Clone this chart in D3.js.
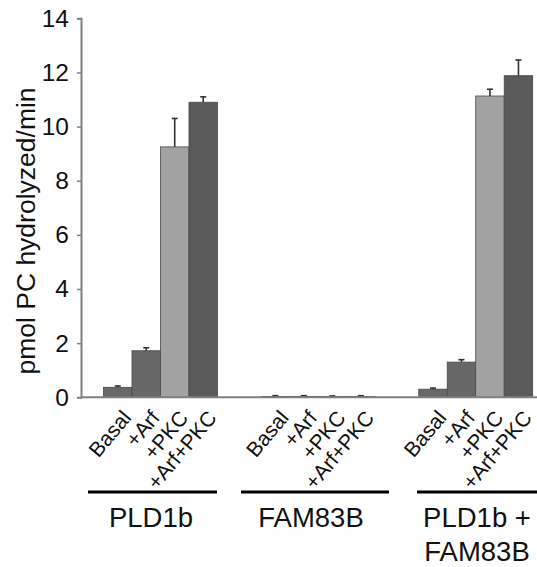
<!DOCTYPE html>
<html><head><meta charset="utf-8">
<script src="https://cdn.jsdelivr.net/npm/d3@7/dist/d3.min.js"></script>
<style>body{margin:0;background:#fff}svg{display:block}text{font-family:"Liberation Sans",Arial,sans-serif}</style>
</head><body><svg id="c" width="537" height="567"></svg>
<script>
const groups = ["PLD1b", "FAM83B", "PLD1b + FAM83B"];
const conditions = ["Basal", "+Arf", "+PKC", "+Arf+PKC"];
const valuesPLD1b = [0.37, 1.72, 9.25, 10.9];
const errorsPLD1b = [0.05, 0.11, 1.05, 0.2];
const valuesFAM83B = [0.03, 0.03, 0.03, 0.03];
const errorsFAM83B = [0.03, 0.03, 0.02, 0.03];
const valuesBoth = [0.3, 1.3, 11.13, 11.88];
const errorsBoth = [0.04, 0.09, 0.25, 0.58];
const yTicks = [0, 2, 4, 6, 8, 10, 12, 14];
const yTitle = "pmol PC hydrolyzed/min";
const colors = ["#676767", "#676767", "#a2a2a2", "#5a5a5a"];

const allValues = [valuesPLD1b, valuesFAM83B, valuesBoth];
const allErrors = [errorsPLD1b, errorsFAM83B, errorsBoth];
const data = [];
groups.forEach((g, gi) => conditions.forEach((c, ci) => data.push({g, c, v: allValues[gi][ci], e: allErrors[gi][ci]})));

const svg = d3.select("#c");
const axisX = 81;
const y = d3.scaleLinear().domain([0, 14]).range([397.3, 18.3]);
const x0 = d3.scaleBand().domain(groups).range([103.5, 532.7]).paddingInner(0.277).paddingOuter(0);
const x1 = d3.scaleBand().domain(conditions).range([0, x0.bandwidth()]).padding(0);
const cx = d => x0(d.g) + x1(d.c) + x1.bandwidth() / 2;

// bars
svg.append("g").selectAll("rect").data(data).join("rect")
  .attr("x", d => x0(d.g) + x1(d.c))
  .attr("width", x1.bandwidth())
  .attr("y", d => y(d.v))
  .attr("height", d => y(0) - y(d.v))
  .attr("fill", d => colors[conditions.indexOf(d.c)])
  .attr("stroke", "#4a4a4a").attr("stroke-width", 0.8);

// error bars
const eg = svg.append("g").attr("stroke", "#333").attr("stroke-width", 1.6);
eg.selectAll("line.v").data(data).join("line").attr("class", "v")
  .attr("x1", cx).attr("x2", cx).attr("y1", d => y(d.v)).attr("y2", d => y(d.v + d.e));
eg.selectAll("line.c").data(data).join("line").attr("class", "c")
  .attr("x1", d => cx(d) - 3).attr("x2", d => cx(d) + 3).attr("y1", d => y(d.v + d.e)).attr("y2", d => y(d.v + d.e));

// y axis
const ya = svg.append("g").attr("transform", `translate(${axisX},0)`)
  .call(d3.axisLeft(y).tickValues(yTicks).tickSize(4).tickPadding(8));
ya.select(".domain").attr("stroke", "#808080").attr("stroke-width", 2);
ya.selectAll(".tick line").attr("stroke", "#808080").attr("stroke-width", 1.5);
ya.selectAll(".tick text").attr("font-size", 24.5).attr("fill", "#111").attr("font-family", '"Liberation Sans",Arial,sans-serif');

// x axis baseline
svg.append("line").attr("x1", axisX).attr("x2", 537).attr("y1", y(0)).attr("y2", y(0))
  .attr("stroke", "#808080").attr("stroke-width", 2);

// y title
svg.append("text").attr("transform", `translate(35,231) rotate(-90)`)
  .attr("text-anchor", "middle").attr("font-size", 26.5).attr("fill", "#111").text(yTitle);

// rotated condition labels
svg.append("g").selectAll("text").data(data).join("text")
  .attr("transform", d => `translate(${cx(d) + 14.5},${y(0) + 21}) rotate(-50)`)
  .attr("text-anchor", "end").attr("font-size", 21).attr("fill", "#111")
  .text(d => d.c);

// group lines and labels
const lineSpans = [[88, 217], [241, 389], [417, 537]];
svg.append("g").selectAll("line").data(groups).join("line")
  .attr("x1", (g, i) => lineSpans[i][0]).attr("x2", (g, i) => lineSpans[i][1])
  .attr("y1", 492).attr("y2", 492).attr("stroke", "#000").attr("stroke-width", 3);

const labelX = [151, 311, 477];
groups.forEach((g, i) => {
  const t = svg.append("text").attr("x", labelX[i]).attr("y", 527).attr("text-anchor", "middle")
    .attr("font-size", 27.5).attr("fill", "#111");
  if (g === "PLD1b + FAM83B") {
    t.append("tspan").attr("x", labelX[i]).text("PLD1b +");
    t.append("tspan").attr("x", labelX[i]).attr("dy", 34).text("FAM83B");
  } else t.text(g);
});
</script></body></html>
